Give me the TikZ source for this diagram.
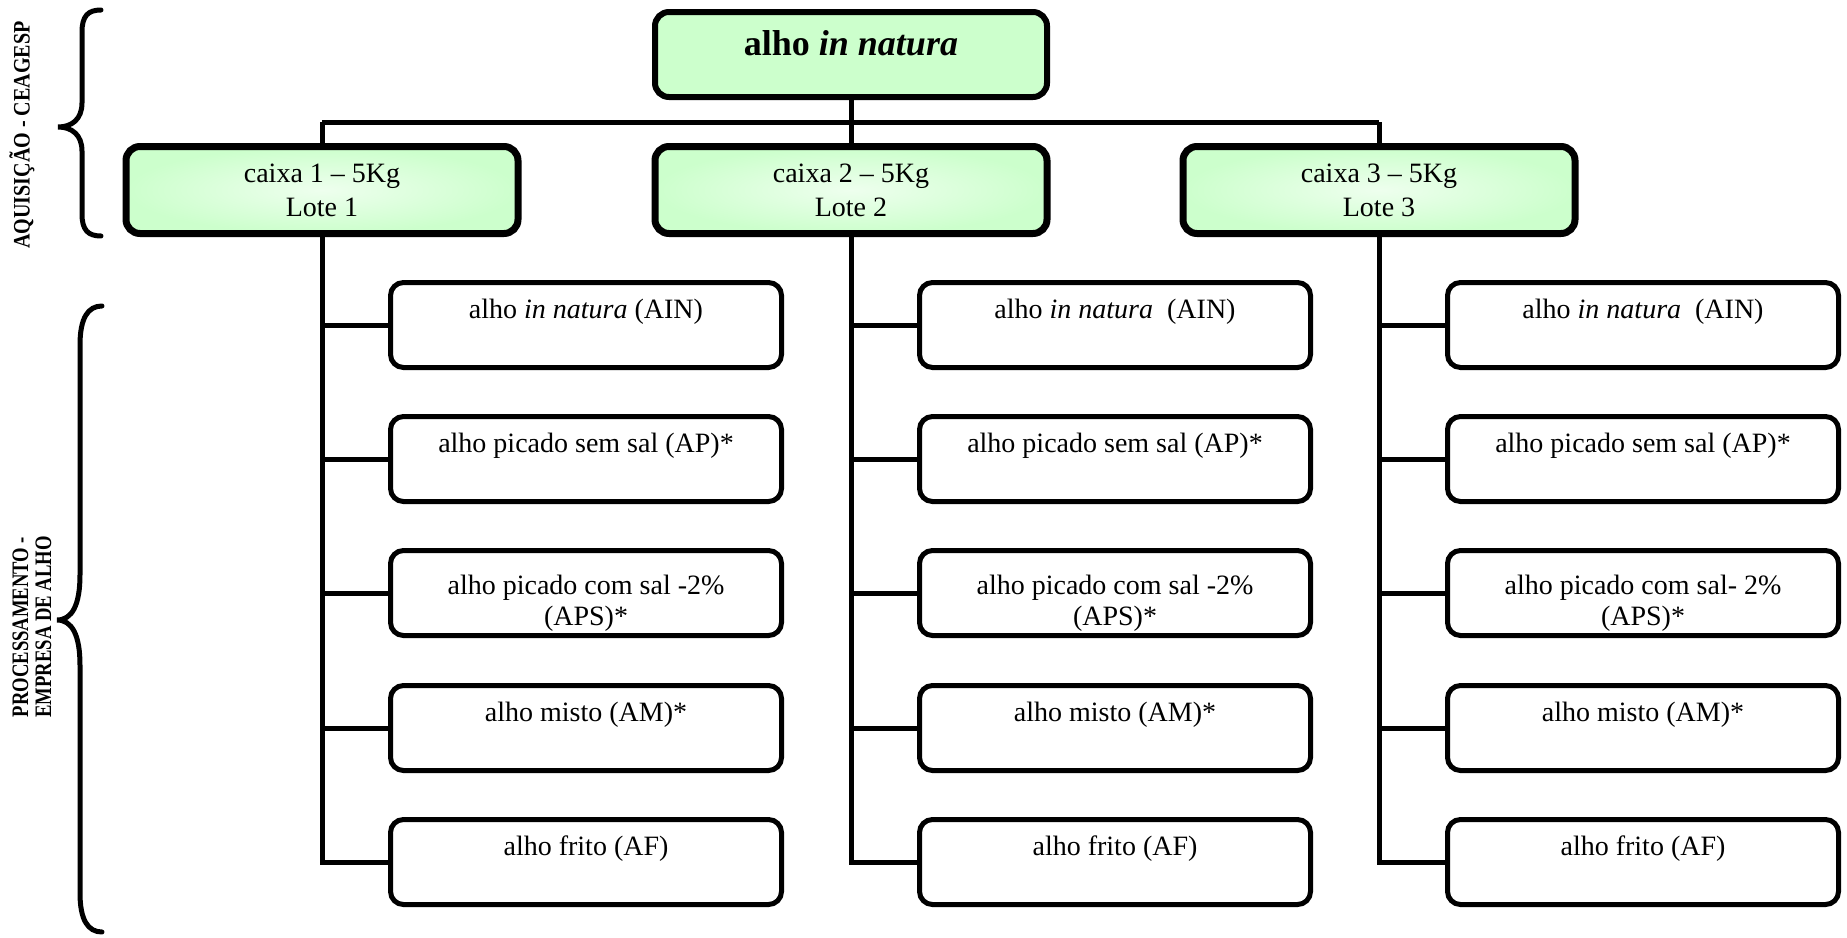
\documentclass[tikz,border=0pt]{standalone}
\usepackage{fontspec}
\setmainfont{Liberation Serif}
\newfontfamily\narrowserif[FakeStretch=0.79]{Liberation Serif}
\newfontfamily\semiserif[FakeStretch=0.85]{Liberation Serif}
\usetikzlibrary{calc}
\definecolor{leaf}{RGB}{204,255,204}
\definecolor{leaflight}{RGB}{238,255,238}
\begin{document}
\begin{tikzpicture}[x=0.5pt,y=-0.5pt,
  conn/.style={line width=2.5pt},
  topbox/.style={draw, line width=3pt, rounded corners=7pt, fill=leaf,
    minimum width=196pt, minimum height=42.5pt, inner sep=0pt},
  lotbox/.style={draw, line width=3.5pt, rounded corners=7pt,
    inner color=leaflight, outer color=leaf,
    minimum width=196pt, minimum height=43.5pt, inner sep=0pt},
  prodbox/.style={draw, line width=2.5pt, rounded corners=6.5pt, fill=white,
    minimum width=195.5pt, minimum height=42.5pt, inner sep=0pt},
  boxtext/.style={font=\fontsize{14}{15.5}\selectfont, align=center,
    anchor=base, inner sep=0pt},
  lottext/.style={font=\fontsize{14}{17}\selectfont, align=center,
    anchor=base, inner sep=0pt},
  sidelabel/.style={rotate=90, align=center, inner sep=0pt},
  brace/.style={line width=2.5pt, line cap=round}
]
\useasboundingbox (0,0) rectangle (1847,937);

% root box
\node[topbox] (top) at (851,54.5) {};
\node[anchor=base, inner sep=0pt, font=\fontsize{18}{20}\selectfont\bfseries]
  (t-top) at ($(top.north)+(0,46)$) {alho \textit{in natura}};

% lots and their products (multi-line texts are placed by their last baseline)
\foreach \c/\x in {1/322,2/851,3/1379}{
  \node[lotbox] (lot\c) at (\x,190) {};
  \node[lottext] (t-lot\c) at ($(lot\c.north)+(0,73)$) {caixa \c\ -- 5Kg\\Lote \c};
  \foreach \r/\y in {a/325,b/459,c/593,d/728,e/862}{
    \node[prodbox] (p\c\r) at ({\x+264},\y) {};
  }
  \draw[conn] (lot\c.south) |- (p\c e.west);
  \foreach \r in {a,b,c,d}{
    \draw[conn] (lot\c.south |- p\c\r.west) -- (p\c\r.west);
  }
  \node[boxtext] (t-p\c b) at ($(p\c b.north)+(0,38)$) {alho picado sem sal (AP)*};
  \node[boxtext] (t-p\c d) at ($(p\c d.north)+(0,38)$) {alho misto (AM)*};
  \node[boxtext] (t-p\c e) at ($(p\c e.north)+(0,38)$) {alho frito (AF)};
}

\node[boxtext] (t-p1a) at ($(p1a.north)+(0,38)$) {alho \textit{in natura} (AIN)};
\node[boxtext] (t-p2a) at ($(p2a.north)+(0,38)$) {alho \textit{in natura}\ \ (AIN)};
\node[boxtext] (t-p3a) at ($(p3a.north)+(0,38)$) {alho \textit{in natura}\ \ (AIN)};
\node[boxtext] (t-p1c) at ($(p1c.north)+(0,77)$) {alho picado com sal -2\%\\(APS)*};
\node[boxtext] (t-p2c) at ($(p2c.north)+(0,77)$) {alho picado com sal -2\%\\(APS)*};
\node[boxtext] (t-p3c) at ($(p3c.north)+(0,77)$) {alho picado com sal- 2\%\\(APS)*};

% distribution bus
\coordinate (busL) at (322,122);
\coordinate (busR) at (1379,122);
\draw[conn] (busL) -- (busR);
\draw[conn] (top.south) -- (top.south |- busL);
\foreach \c in {1,2,3}{
  \draw[conn] (lot\c.north |- busL) -- (lot\c.north);
}

% side braces and stage labels
\draw[brace] (101,10) .. controls (88,10) and (82,16) .. (82,32) -- (82,103)
  .. controls (82,119) and (72,127) .. (58,127)
  .. controls (72,127) and (82,135) .. (82,151) -- (82,214)
  .. controls (82,230) and (88,236) .. (101,236);
\node[sidelabel, font=\semiserif\fontsize{11.8}{11.5}\selectfont\bfseries]
  (lbl-acq) at (22,135) {AQUISIÇÃO - CEAGESP};

\draw[brace] (102,306) .. controls (88,306) and (80,318) .. (80,345) -- (80,575)
  .. controls (80,605) and (72,620) .. (57,620)
  .. controls (72,620) and (80,635) .. (80,665) -- (80,893)
  .. controls (80,920) and (88,932) .. (102,932);
\node[sidelabel, font=\narrowserif\fontsize{11.8}{11.5}\selectfont\bfseries]
  (lbl-proc) at (32,627) {PROCESSAMENTO -\\EMPRESA DE ALHO};
\end{tikzpicture}
\end{document}
